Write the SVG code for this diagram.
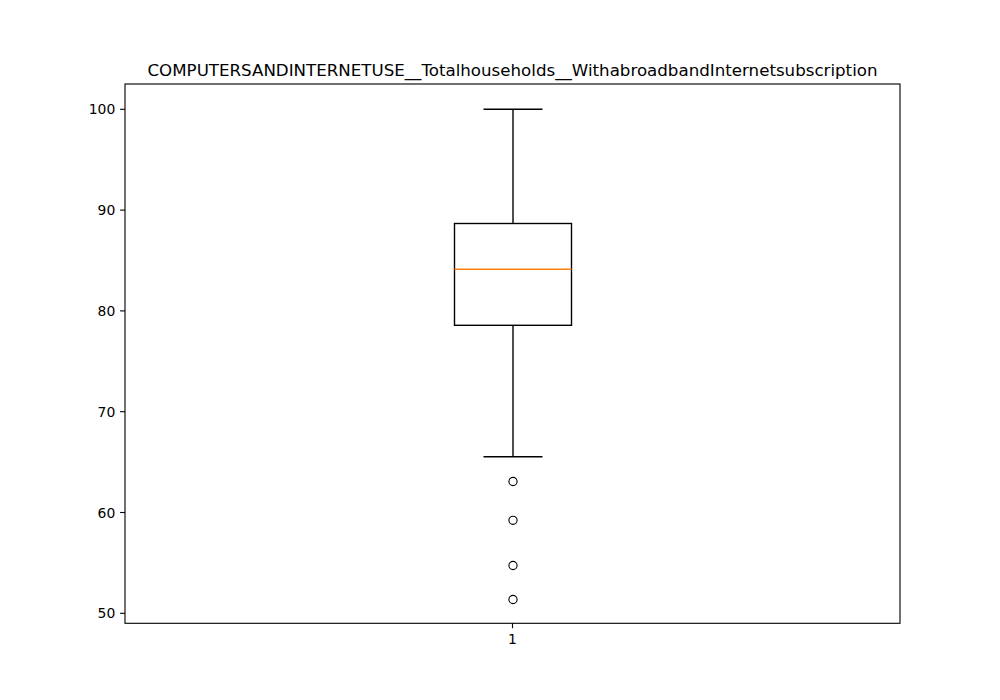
<svg xmlns="http://www.w3.org/2000/svg" width="1000" height="700" viewBox="0 0 1000 700">
<style>
  .lbl { font-family: "DejaVu Sans", sans-serif; font-size: 13.9px; fill: #000; }
  .ttl { font-family: "DejaVu Sans", sans-serif; font-size: 16.67px; fill: #000; }
  .ax { stroke: #000; stroke-width: 1.11; fill: none; }
  .bx { stroke: #000; stroke-width: 1.39; fill: none; }
  .fl { stroke: #000; stroke-width: 1.11; fill: none; }
</style>
<rect x="0" y="0" width="1000" height="700" fill="#fff"/>
<g id="axes">
  <rect class="ax" x="125" y="84" width="775" height="539.3"/>
  <g id="yticks">
    <line class="ax" x1="120.1" y1="109.3" x2="125" y2="109.3"/>
    <line class="ax" x1="120.1" y1="210.1" x2="125" y2="210.1"/>
    <line class="ax" x1="120.1" y1="310.9" x2="125" y2="310.9"/>
    <line class="ax" x1="120.1" y1="411.7" x2="125" y2="411.7"/>
    <line class="ax" x1="120.1" y1="512.5" x2="125" y2="512.5"/>
    <line class="ax" x1="120.1" y1="613.3" x2="125" y2="613.3"/>
    <text class="lbl" x="115.3" y="114.3" text-anchor="end">100</text>
    <text class="lbl" x="115.3" y="215.1" text-anchor="end">90</text>
    <text class="lbl" x="115.3" y="315.9" text-anchor="end">80</text>
    <text class="lbl" x="115.3" y="416.7" text-anchor="end">70</text>
    <text class="lbl" x="115.3" y="517.5" text-anchor="end">60</text>
    <text class="lbl" x="115.3" y="618.3" text-anchor="end">50</text>
  </g>
  <g id="xticks">
    <line class="ax" x1="512.5" y1="623.3" x2="512.5" y2="628.2"/>
    <text class="lbl" x="512.5" y="644" text-anchor="middle">1</text>
  </g>
</g>
<text id="title" class="ttl" x="512.5" y="76.3" text-anchor="middle">COMPUTERSANDINTERNETUSE__Totalhouseholds__WithabroadbandInternetsubscription</text>
<g id="box">
  <rect class="bx" x="454.5" y="223.5" width="117" height="101.8"/>
  <line x1="454.5" y1="269.3" x2="571.5" y2="269.3" stroke="#ff7f0e" stroke-width="1.39"/>
</g>
<g id="whiskers">
  <line class="bx" x1="513" y1="223.5" x2="513" y2="109.3"/>
  <line class="bx" x1="483.5" y1="109.3" x2="542.5" y2="109.3"/>
  <line class="bx" x1="513" y1="325.3" x2="513" y2="456.7"/>
  <line class="bx" x1="483.5" y1="456.7" x2="542.5" y2="456.7"/>
</g>
<g id="fliers">
  <circle class="fl" cx="513" cy="481.5" r="4.1"/>
  <circle class="fl" cx="513" cy="520.3" r="4.1"/>
  <circle class="fl" cx="513" cy="565.5" r="4.1"/>
  <circle class="fl" cx="513" cy="599.5" r="4.1"/>
</g>
</svg>
